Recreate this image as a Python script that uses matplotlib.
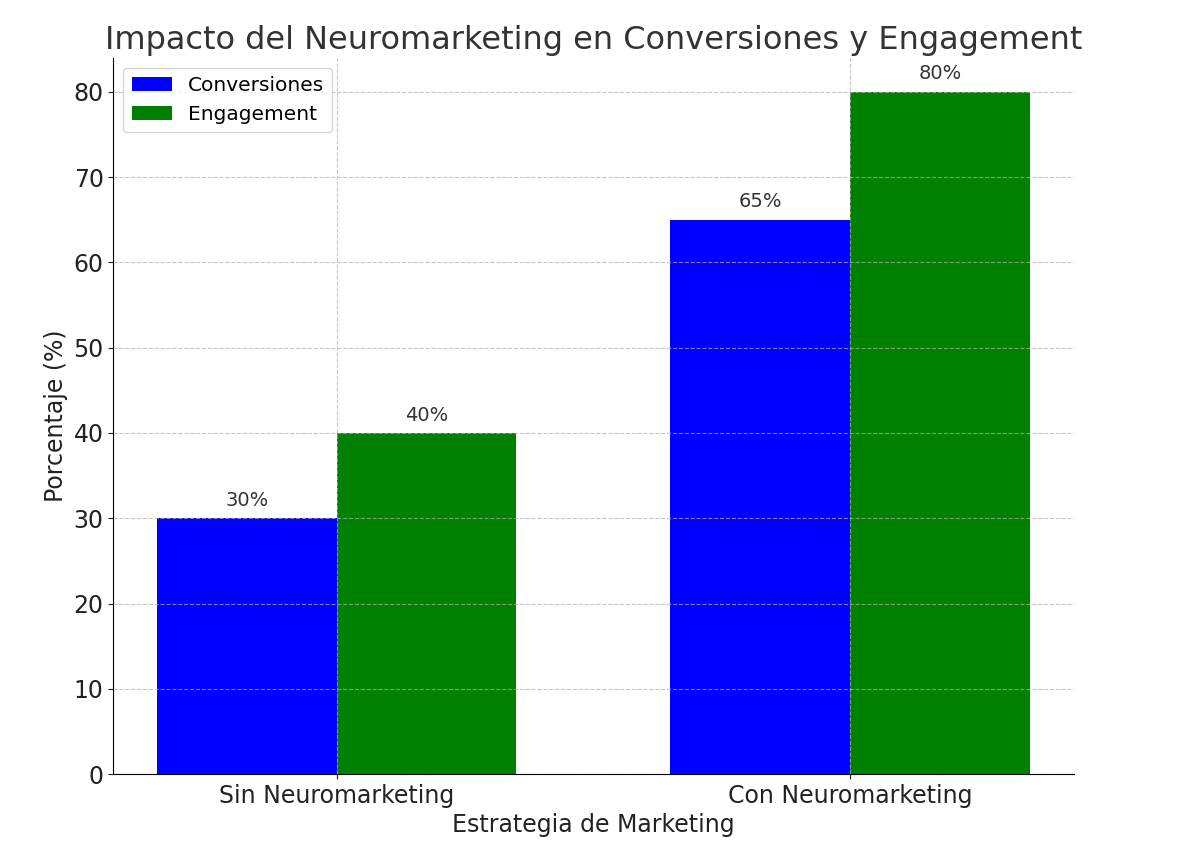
import numpy as np
import matplotlib.pyplot as plt

categories = ["Sin Neuromarketing", "Con Neuromarketing"]
conversiones = [30, 65]
engagement = [40, 80]
series_names = ["Conversiones", "Engagement"]


def _main():
    fig, ax = plt.subplots(figsize=(11.81, 8.47), dpi=100)
    fig.subplots_adjust(left=0.096, right=0.909, top=0.932, bottom=0.086)

    x = np.arange(len(categories))
    w = 0.35
    b1 = ax.bar(x - w / 2, conversiones, w, color="blue", label=series_names[0])
    b2 = ax.bar(x + w / 2, engagement, w, color="green", label=series_names[1])

    for bars in (b1, b2):
        for bar in bars:
            h = bar.get_height()
            ax.annotate(f"{h:.0f}%", (bar.get_x() + bar.get_width() / 2, h),
                        xytext=(0, 6), textcoords="offset points",
                        ha="center", va="bottom", fontsize=14, color="#333333")

    ax.set_xticks(x)
    ax.set_xticklabels(categories)
    ax.tick_params(labelsize=17, colors="#222222")
    ax.set_xlabel("Estrategia de Marketing", fontsize=17, color="#222222")
    ax.set_ylabel("Porcentaje (%)", fontsize=17, color="#222222")
    ax.set_title("Impacto del Neuromarketing en Conversiones y Engagement",
                 fontsize=23, color="#333333")
    ax.grid(True, linestyle="--", alpha=0.7)
    ax.set_axisbelow(False)
    ax.spines["top"].set_visible(False)
    ax.spines["right"].set_visible(False)
    ax.legend(loc="upper left", fontsize=14.5)

    fig.savefig("out.png")


if __name__ == "__main__":
    _main()
